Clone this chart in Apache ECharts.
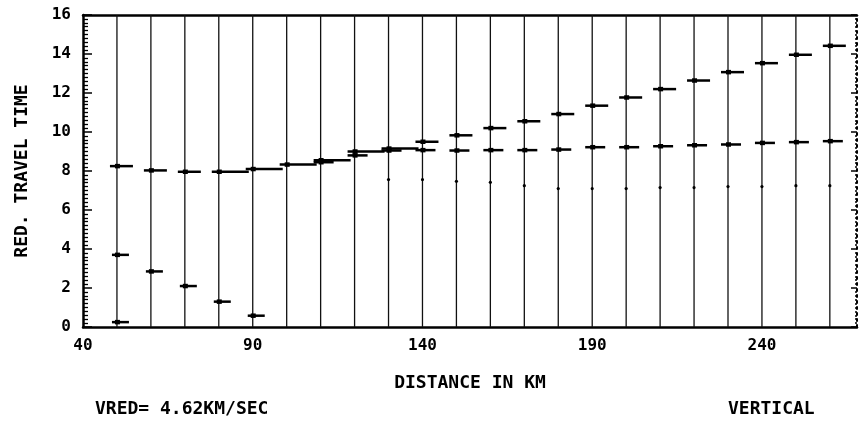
<!DOCTYPE html>
<html>
<head>
<meta charset="utf-8">
<script src="https://cdn.jsdelivr.net/npm/echarts@6/dist/echarts.min.js"></script>
<style>
html,body{margin:0;padding:0;background:#fff;}
#chart{width:860px;height:425px;}
</style>
</head>
<body>
<div id="chart"></div>
<script>
// ---- data ----
var traceDistances = [50,60,70,80,90,100,110,120,130,140,150,160,170,180,190,200,210,220,230,240,250,260];

var directDist = [50, 50, 60, 70, 80, 90];
var directTime = [0.25, 3.7, 2.85, 2.1, 1.3, 0.58];

var upperDist = [50,60,70,80,90,100,110,120,130,140,150,160,170,180,190,200,210,220,230,240,250,260];
var upperTime = [8.25,8.03,7.96,7.96,8.1,8.33,8.55,9.0,9.15,9.5,9.83,10.2,10.55,10.92,11.35,11.77,12.2,12.64,13.07,13.53,13.96,14.42];

var middleDist = [110,120,130,140,150,160,170,180,190,200,210,220,230,240,250,260];
var middleTime = [8.45,8.8,9.05,9.07,9.05,9.07,9.07,9.1,9.22,9.22,9.27,9.32,9.36,9.44,9.48,9.53];

var dotDist = [130,140,150,160,170,180,190,200,210,220,230,240,250,260];
var dotTime = [7.56,7.56,7.47,7.42,7.25,7.1,7.1,7.1,7.15,7.15,7.2,7.2,7.25,7.25];

var xTickLabels = [40, 90, 140, 190, 240];
var yTickLabels = [0, 2, 4, 6, 8, 10, 12, 14, 16];

// ---- chart ----
var FONT = 'DejaVu Sans Mono';
var X_MIN = 40, X_MAX = 268, Y_MIN = 0, Y_MAX = 16;

function zip(a, b) { return a.map(function (v, i) { return [v, b[i]]; }); }

function traceItem(params, api) {
  var d = api.value(0);
  var p0 = api.coord([d, Y_MIN]);
  var p1 = api.coord([d, Y_MAX]);
  return {
    type: 'line',
    shape: { x1: p0[0], y1: p0[1], x2: p1[0], y2: p1[1] },
    style: { stroke: '#111', lineWidth: 1.3 }
  };
}

function markRenderer(left, right, h) {
  return function (params, api) {
    var p = api.coord([api.value(0), api.value(1)]);
    var r = (typeof right === 'function') ? right(api.value(0)) : right;
    return {
      type: 'group',
      children: [
        { type: 'rect', shape: { x: p[0] - left, y: p[1] - h / 2, width: left + r, height: h }, style: { fill: '#000' } },
        { type: 'rect', shape: { x: p[0] - 2, y: p[1] - h / 2 - 1, width: 5, height: h + 2 }, style: { fill: '#000' } }
      ]
    };
  };
}

function dotItem(params, api) {
  var p = api.coord([api.value(0), api.value(1)]);
  return { type: 'circle', shape: { cx: p[0], cy: p[1], r: 1.6 }, style: { fill: '#000' } };
}

var chart = echarts.init(document.getElementById('chart'), null, { renderer: 'canvas' });

chart.setOption({
  animation: false,
  backgroundColor: '#fff',
  grid: { left: 83, right: 3, top: 15, bottom: 98, containLabel: false },
  xAxis: [{
    type: 'value', min: X_MIN, max: X_MAX, interval: 50,
    position: 'bottom',
    name: 'DISTANCE IN KM', nameLocation: 'middle', nameGap: 47,
    nameTextStyle: { fontFamily: FONT, fontWeight: 'bold', fontSize: 18, color: '#000' },
    axisLine: { show: true, lineStyle: { color: '#000', width: 2.5 } },
    axisTick: { show: false },
    splitLine: { show: false },
    axisLabel: {
      fontFamily: FONT, fontWeight: 'bold', fontSize: 16, color: '#000', margin: 11,
      showMaxLabel: false,
      formatter: function (v) { return xTickLabels.indexOf(v) >= 0 ? String(v) : ''; }
    }
  }, {
    type: 'value', min: X_MIN, max: X_MAX, position: 'top',
    axisLine: { show: true, onZero: false, lineStyle: { color: '#000', width: 2.5 } },
    axisTick: { show: false }, axisLabel: { show: false }, splitLine: { show: false }
  }],
  yAxis: [{
    type: 'value', min: Y_MIN, max: Y_MAX, interval: 2,
    position: 'left',
    name: 'RED. TRAVEL TIME', nameLocation: 'middle', nameGap: 52, nameRotate: 90,
    nameTextStyle: { fontFamily: FONT, fontWeight: 'bold', fontSize: 18, color: '#000' },
    axisLine: { show: true, lineStyle: { color: '#000', width: 2.5 } },
    axisTick: { show: true, inside: true, length: 9, lineStyle: { color: '#000', width: 1.5 } },
    minorTick: { show: true, splitNumber: 10, length: 5, lineStyle: { color: '#000', width: 1.3 } },
    splitLine: { show: false },
    axisLabel: {
      fontFamily: FONT, fontWeight: 'bold', fontSize: 16, color: '#000', margin: 12,
      formatter: function (v) { return yTickLabels.indexOf(v) >= 0 ? String(v) : ''; }
    }
  }, {
    type: 'value', min: Y_MIN, max: Y_MAX, interval: 2,
    position: 'right',
    axisLine: { show: true, lineStyle: { color: '#000', width: 2, type: [2, 4] } },
    axisTick: { show: true, inside: true, length: 6, lineStyle: { color: '#000', width: 1.5 } },
    minorTick: { show: true, splitNumber: 10, length: 2, lineStyle: { color: '#000', width: 1.5 } },
    axisLabel: { show: false }, splitLine: { show: false }
  }],
  series: [
    {
      type: 'custom', name: 'traces', renderItem: traceItem,
      data: traceDistances.map(function (d) { return [d, Y_MIN]; }),
      encode: { x: 0, y: 1 }, silent: true, clip: true
    },
    {
      type: 'custom', name: 'direct', renderItem: markRenderer(5, 12, 2.5),
      data: zip(directDist, directTime), encode: { x: 0, y: 1 }, silent: true
    },
    {
      type: 'custom', name: 'reflection', renderItem: markRenderer(7, function (d) { return (d >= 80 && d <= 130) ? 30 : 16; }, 2.5),
      data: zip(upperDist, upperTime), encode: { x: 0, y: 1 }, silent: true
    },
    {
      type: 'custom', name: 'refraction', renderItem: markRenderer(7, 13, 2.5),
      data: zip(middleDist, middleTime), encode: { x: 0, y: 1 }, silent: true
    },
    {
      type: 'custom', name: 'dots', renderItem: dotItem,
      data: zip(dotDist, dotTime), encode: { x: 0, y: 1 }, silent: true
    }
  ],
  graphic: [
    { type: 'text', left: 95, top: 400, style: { text: 'VRED= 4.62KM/SEC', font: 'bold 18px "DejaVu Sans Mono"', fill: '#000' } },
    { type: 'text', left: 728, top: 400, style: { text: 'VERTICAL', font: 'bold 18px "DejaVu Sans Mono"', fill: '#000' } }
  ]
});
</script>
</body>
</html>
